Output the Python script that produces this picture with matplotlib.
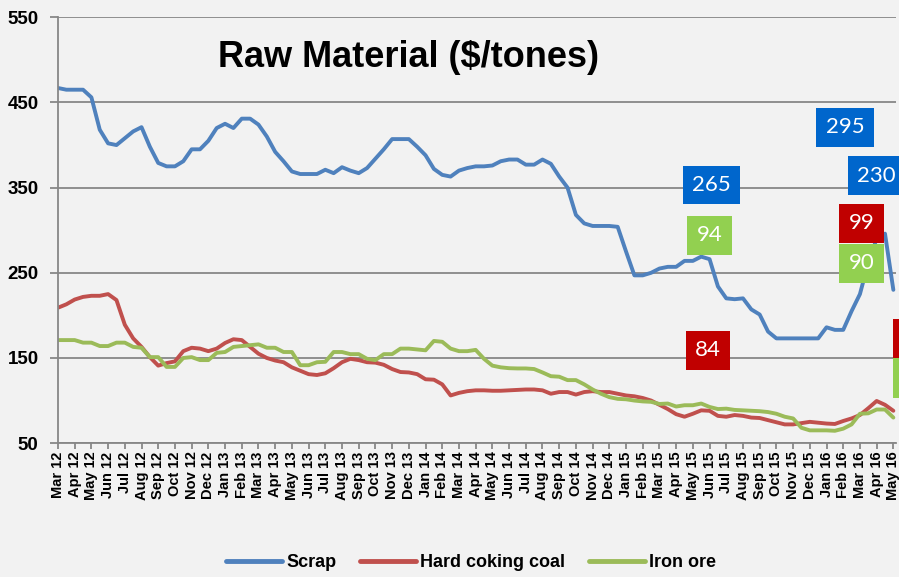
import numpy as np
import matplotlib
matplotlib.use("Agg")
import matplotlib.pyplot as plt
from matplotlib.patches import Rectangle

# month labels Mar 12 .. May 16
months = ["Mar 12", "Apr 12", "May 12", "Jun 12", "Jul 12", "Aug 12", "Sep 12", "Oct 12",
          "Nov 12", "Dec 12", "Jan 13", "Feb 13", "Mar 13", "Apr 13", "May 13", "Jun 13",
          "Jul 13", "Aug 13", "Sep 13", "Oct 13", "Nov 13", "Dec 13", "Jan 14", "Feb 14",
          "Mar 14", "Apr 14", "May 14", "Jun 14", "Jul 14", "Aug 14", "Sep 14", "Oct 14",
          "Nov 14", "Dec 14", "Jan 15", "Feb 15", "Mar 15", "Apr 15", "May 15", "Jun 15",
          "Jul 15", "Aug 15", "Sep 15", "Oct 15", "Nov 15", "Dec 15", "Jan 16", "Feb 16",
          "Mar 16", "Apr 16", "May 16"]

# semi-monthly prices ($/t)
scrap = [467, 465, 465, 465, 456, 418, 402, 400, 408, 416,
         421, 398, 379, 375, 375, 381, 395, 395, 405, 420,
         425, 420, 431, 431, 424, 410, 392, 381, 369, 366,
         366, 366, 371, 367, 374, 370, 367, 373, 384, 395,
         407, 407, 407, 398, 388, 372, 365, 363, 370, 373,
         375, 375, 376, 381, 383, 383, 377, 377, 383, 378,
         363, 350, 318, 308, 305, 305, 305, 304, 275, 247,
         247, 250, 255, 257, 257, 264, 264, 269, 266, 234,
         220, 219, 220, 207, 201, 181, 173, 173, 173, 173,
         173, 173, 186, 183, 183, 205, 225, 262, 290, 296,
         230]

coal = [209, 213, 218.6, 221.7, 223, 223, 225, 218, 189, 173,
        163, 151, 141, 144, 146, 158, 162, 161, 158, 161,
        167.6, 172, 171, 163, 155, 150, 147, 145, 139, 135,
        131, 130, 132, 138, 145, 149, 147.5, 145, 144.5, 142,
        137, 133.5, 133, 131, 125, 124.5, 119, 106, 109, 111,
        112, 112, 111.5, 111.5, 112, 112.5, 113, 113, 112, 108,
        110, 110, 107, 110, 111, 110, 110, 108, 106, 105,
        103, 100, 95, 90, 84, 81, 84.5, 88.5, 88, 82,
        81, 83, 82, 80, 79.5, 77, 74.5, 72, 72, 73.5,
        75, 74, 73, 72.5, 76, 79, 83, 91, 99.5, 95,
        88]

iron = [171, 171, 171, 168, 168, 164, 164, 168, 168, 163,
        162, 151, 151, 139.5, 139.5, 150, 151, 147.5, 147.5, 156,
        157, 163, 164, 165, 166, 162, 162, 157, 157, 141.5,
        141.5, 145, 145.5, 157, 157, 154.5, 154.5, 149, 147.5, 154.5,
        154.5, 161, 161, 160, 159, 170, 169, 161, 158, 158,
        159.5, 149, 141, 139, 138, 137.7, 137.7, 137, 133, 128.6,
        128, 124, 124, 119, 113, 108, 104, 102, 101.5, 100,
        99, 98.5, 96, 96.5, 93, 94.5, 94.5, 96.5, 92.5, 90,
        90.5, 89, 88.5, 88, 87.5, 86.5, 84.5, 81, 79, 68,
        65, 65, 65, 64.5, 67, 72, 84.5, 85, 89.5, 89.5,
        80]

# boxed value labels: (text, colour, month, y)
callouts = [("265", "#0066CC", 39.1, 353), ("94", "#92D050", 39.0, 294),
            ("84", "#C00000", 38.9, 159), ("295", "#0066CC", 47.1, 421),
            ("230", "#0066CC", 49.0, 364), ("99", "#C00000", 48.1, 308),
            ("90", "#92D050", 48.1, 261)]
# boxes cut off at the right edge (only their left side shows)
edge_boxes = [("#C00000", 196, 150), ("#92D050", 150, 103)]

bg = "#F2F2F2"
grid_c = "#878787"
plt.rcParams["font.family"] = ["Liberation Sans", "DejaVu Sans"]

fig = plt.figure(figsize=(8.99, 5.77), dpi=100, facecolor=bg)
ax = fig.add_axes([0.0645, 0.232, 0.932, 0.738], facecolor=bg)

x = np.arange(len(scrap)) / 2.0
ax.plot(x, scrap, color="#4F81BD", lw=2.8, label="Scrap", solid_capstyle="round")
ax.plot(x, coal, color="#C0504D", lw=2.8, label="Hard coking coal", solid_capstyle="round")
ax.plot(x, iron, color="#9BBB59", lw=2.8, label="Iron ore", solid_capstyle="round")

ax.set_xlim(0, 50.15)
ax.set_ylim(50, 550)
ax.set_yticks(range(50, 551, 100))
ax.set_xticks(range(len(months)))
ax.set_xticklabels(months, rotation=90, fontsize=10.5, fontweight="bold")
for lbl in ax.get_yticklabels():
    lbl.set_fontsize(13.5)
    lbl.set_fontweight("bold")

ax.yaxis.grid(True, color=grid_c, lw=1.3)
ax.set_axisbelow(True)
for s in ["top", "right"]:
    ax.spines[s].set_visible(False)
ax.spines["left"].set_color(grid_c)
ax.spines["bottom"].set_color(grid_c)
ax.spines["left"].set_linewidth(1.3)
ax.spines["bottom"].set_linewidth(1.3)
ax.tick_params(axis="y", length=6, color=grid_c, width=1.3, pad=8)
ax.tick_params(axis="x", length=4, color=grid_c, width=1.3, pad=2)

ax.text(0.418, 0.905, "Raw Material ($/tones)", transform=ax.transAxes, ha="center",
        va="center", fontsize=26, fontweight="bold")

for txt, col, mx, my in callouts:
    ax.text(mx, my, txt, ha="center", va="center", fontsize=16, color="white",
            family=["Lato", "DejaVu Sans"], clip_on=False, zorder=5,
            bbox=dict(boxstyle="square,pad=0.42", fc=col, ec="none"))

for col, top, bot in edge_boxes:
    ax.add_patch(Rectangle((49.95, bot), 3.0, top - bot, fc=col, ec="none",
                           clip_on=False, zorder=5))

leg = fig.legend(loc="center", bbox_to_anchor=(0.524, 0.025), ncol=3, frameon=False,
                 prop={"weight": "bold", "size": 13}, handlelength=3.1,
                 handletextpad=0.25, columnspacing=1.3)
for h in leg.get_lines():
    h.set_linewidth(3.5)

fig.savefig("out.png", dpi=100, facecolor=bg)
